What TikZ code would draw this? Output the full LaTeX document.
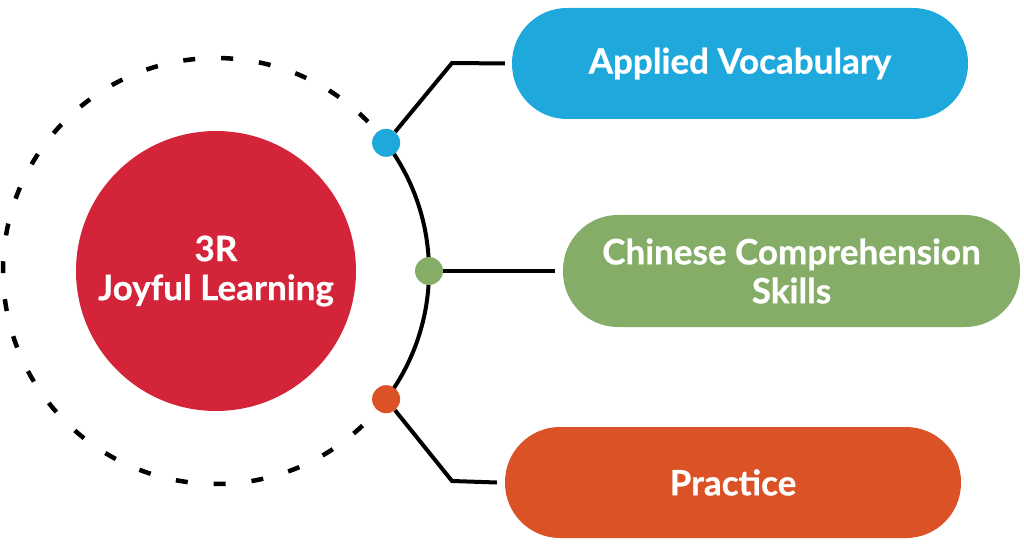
\documentclass[tikz,border=0pt]{standalone}
\usepackage{fontspec}
\setmainfont{Lato}[BoldFont={Lato Bold}, BoldFeatures={FakeBold=0.6}]
\usetikzlibrary{calc}
\definecolor{cred}{HTML}{D32439}
\definecolor{cblue}{HTML}{1EA8DC}
\definecolor{cgreen}{HTML}{85AD67}
\definecolor{corange}{HTML}{DC5227}
\tikzset{
  pill/.style={rounded corners=55pt, minimum width=456pt, minimum height=111pt, inner sep=0pt, text=white, font=\fontsize{35}{39}\selectfont\bfseries, align=center},
  dot/.style={circle, minimum size=28pt, inner sep=0pt},
  link/.style={line width=4pt, black},
  ring/.style={line width=4.5pt, black, dash pattern=on 12pt off 26pt},
}
\begin{document}
\begin{tikzpicture}[x=1pt,y=1pt]
\useasboundingbox (0,0) rectangle (1024,544);
\coordinate (c) at (216,273);
\node[circle, fill=cred, minimum size=280pt, inner sep=0pt, text=white, align=center, font=\fontsize{35}{39}\selectfont\bfseries] (core) at (c) {3R\\Joyful Learning};
\draw[ring] ($(c)+(44.5:213)$) arc[start angle=44.5, end angle=314, radius=213];
\draw[link] ($(c)+(-37:213)$) arc[start angle=-37, end angle=37, radius=213];
\node[pill, fill=cblue] (voc) at (740,480.5) {Applied Vocabulary};
\node[pill, fill=cgreen, minimum width=457pt, minimum height=112pt] (chi) at (791.5,273) {Chinese Comprehension\\Skills};
\node[pill, fill=corange] (pra) at (733,61.5) {Practice};
\coordinate (bc) at (452,481);
\coordinate (oc) at (452,63);
\node[dot, fill=cblue] (bd) at ($(c)+(37:213)$) {};
\node[dot, fill=cgreen] (gd) at ($(c)+(0:213)$) {};
\node[dot, fill=corange] (od) at ($(c)+(-37:213)$) {};
\draw[link] (bd) -- (bc) -- ([xshift=-7pt]voc.west);
\draw[link] (gd) -- ([xshift=-8pt]chi.west);
\draw[link] (od) -- (oc) -- ([xshift=-8pt]pra.west);
\end{tikzpicture}
\end{document}
